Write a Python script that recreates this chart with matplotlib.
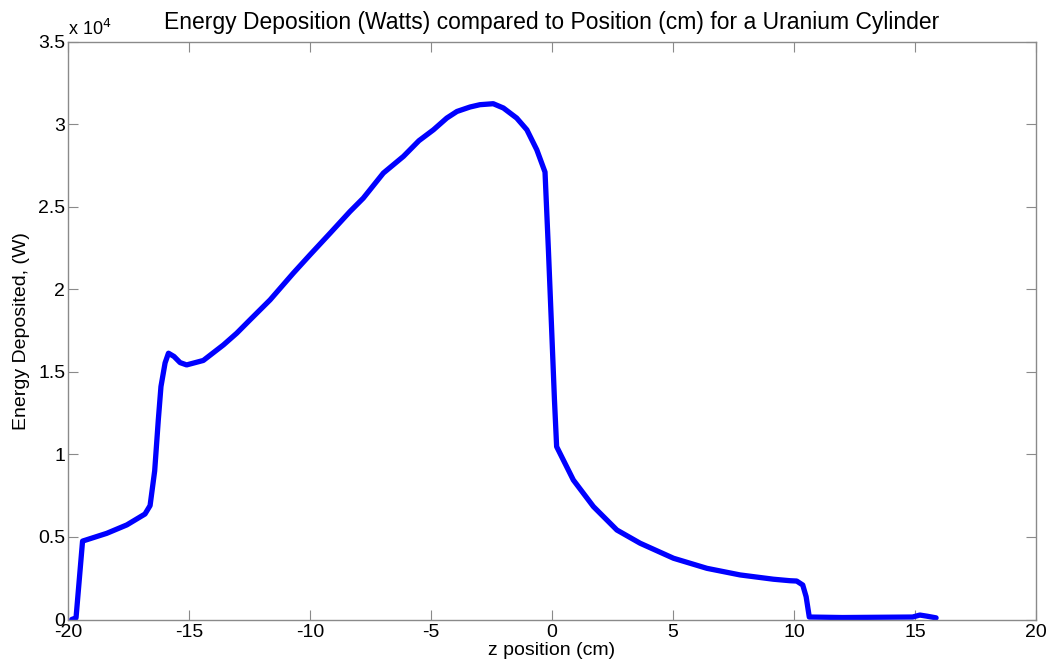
import matplotlib
matplotlib.use("Agg")
import matplotlib.pyplot as plt
from matplotlib.ticker import FuncFormatter

plt.rcParams['font.family'] = ['Liberation Sans', 'DejaVu Sans']
plt.rcParams['axes.unicode_minus'] = False

# z position (cm) and deposited energy (W)
z_pos = [-19.85, -19.67, -19.4, -18.4, -17.57, -16.82, -16.61, -16.42, -16.27,
         -16.16, -15.99, -15.85, -15.62, -15.37, -15.1, -14.41, -13.58, -13.03,
         -12.48, -11.65, -10.69, -10.0, -9.17, -8.35, -7.8, -6.97, -6.14, -5.5,
         -4.9, -4.35, -3.93, -3.39, -2.98, -2.43, -2.01, -1.46, -1.04, -0.63,
         -0.29, -0.15, -0.01, 0.1, 0.19, 0.88, 1.71, 2.68, 3.64, 5.02, 6.4,
         7.77, 9.15, 9.83, 10.11, 10.36, 10.5, 10.63, 12.0, 14.9, 15.2, 15.5,
         15.87]
energy = [0, 100, 4750, 5220, 5730, 6390, 6900, 9000, 12090,
          14110, 15540, 16130, 15930, 15560, 15420, 15690, 16630, 17340,
          18150, 19360, 20980, 22090, 23400, 24710, 25520, 27040, 28050, 29000,
          29660, 30370, 30770, 31040, 31180, 31240, 30980, 30370, 29660, 28450,
          27100, 22390, 17340, 13300, 10470, 8450, 6840, 5420, 4620, 3710, 3100,
          2700, 2440, 2350, 2330, 2090, 1380, 150, 120, 150, 270, 200,
          100]

x_ticks = [-20, -15, -10, -5, 0, 5, 10, 15, 20]
y_ticks = [0, 5000, 10000, 15000, 20000, 25000, 30000, 35000]

fig = plt.figure(figsize=(10.5, 6.66), dpi=100)
ax = fig.add_axes([0.0648, 0.0698, 0.9219, 0.8677])

ax.plot(z_pos, energy, color='#0000ff', linewidth=3.8, solid_joinstyle='round',
        solid_capstyle='round')

ax.set_xlim(-20, 20)
ax.set_ylim(0, 35000)
ax.set_xticks(x_ticks)
ax.set_yticks(y_ticks)
ax.yaxis.set_major_formatter(FuncFormatter(lambda v, p: f"{v / 1e4:g}"))

axis_grey = '#8a8a8a'
for s in ax.spines.values():
    s.set_color(axis_grey)
    s.set_linewidth(1.0)
ax.tick_params(direction='in', top=True, right=True, length=7, width=0.8,
               color=axis_grey, labelsize=14, labelcolor='black')
ax.tick_params(axis='x', pad=3)
ax.tick_params(axis='y', pad=2)

ax.text(0.0, 1.005, r'x 10$^{4}$', transform=ax.transAxes, fontsize=13,
        ha='left', va='bottom')

ax.set_title("Energy Deposition (Watts) compared to Position (cm) for a Uranium Cylinder",
             fontsize=16.5, pad=9)
ax.set_xlabel("z position (cm)", fontsize=14, labelpad=1)
ax.set_ylabel("Energy Deposited, (W)", fontsize=14, labelpad=6)

fig.savefig("out.png", dpi=100)
